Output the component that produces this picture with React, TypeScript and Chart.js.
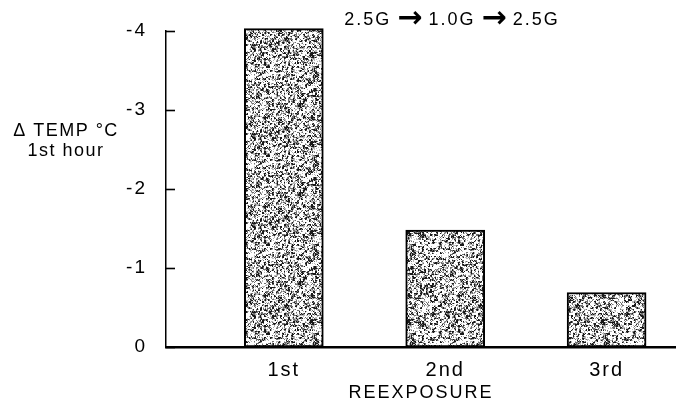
import React, { useEffect, useRef } from "react";
import { Chart, registerables } from "chart.js";

Chart.register(...registerables);

// ---- data ----
const categories = ["1st", "2nd", "3rd"];
const categoryPositions = [1, 2, 3];
const tempChange = [-4.03, -1.48, -0.69];
const yTickValues = [0, -1, -2, -3, -4];
const yTitleLines = ["Δ TEMP °C", "1st hour"];
const xTitle = "REEXPOSURE";
const protocolParts = ["2.5G", "→", "1.0G", "→", "2.5G"];

const FONT = "'Liberation Sans', Arial, Helvetica, sans-serif";
const INK = "#000000";

// stipple texture (style only)
function makeStipple(): HTMLCanvasElement {
  const c = document.createElement("canvas");
  c.width = 97;
  c.height = 89;
  const g = c.getContext("2d")!;
  const img = g.createImageData(c.width, c.height);
  const hash = (x: number, y: number) => {
    let h = (x * 374761393 + y * 668265263) | 0;
    h = Math.imul(h ^ (h >>> 13), 1274126177);
    h ^= h >>> 16;
    return (h >>> 0) / 4294967295;
  };
  for (let y = 0; y < c.height; y++) {
    for (let x = 0; x < c.width; x++) {
      const a = hash(x, y);
      const b = hash(x >> 1, (y >> 1) + 1000);
      const r = a * 0.45 + b * 0.55;
      let v = 255;
      if (r < 0.3) v = 25;
      else if (r < 0.42) v = 110;
      else if (r < 0.52) v = 185;
      const i = (y * c.width + x) * 4;
      img.data[i] = v;
      img.data[i + 1] = v;
      img.data[i + 2] = v;
      img.data[i + 3] = 255;
    }
  }
  g.putImageData(img, 0, 0);
  return c;
}

const decorPlugin = {
  id: "decor",
  beforeDraw(chart: any) {
    chart.ctx.letterSpacing = "2px";
  },
  afterDraw(chart: any) {
    const { ctx, chartArea, scales } = chart;
    const y = scales.y;
    ctx.save();
    ctx.letterSpacing = "0px";
    ctx.strokeStyle = INK;
    ctx.lineWidth = 1.6;
    y.ticks.forEach((t: any) => {
      const py = Math.round(y.getPixelForValue(t.value)) + 0.5;
      ctx.beginPath();
      ctx.moveTo(chartArea.left, py);
      ctx.lineTo(chartArea.left + 9, py);
      ctx.stroke();
    });
    ctx.fillStyle = INK;
    ctx.textAlign = "center";
    ctx.textBaseline = "middle";
    ctx.font = `18px ${FONT}`;
    ctx.letterSpacing = "1.5px";
    ctx.fillText(yTitleLines[0], 66, 131);
    ctx.fillText(yTitleLines[1], 66, 151);

    // protocol label at the top, drawn piece by piece
    const textFont = `18px ${FONT}`;
    const arrowFont = `bold 30px 'DejaVu Sans', sans-serif`;
    const gap = 6;
    ctx.textAlign = "left";
    const widths = protocolParts.map((p, i) => {
      ctx.font = i % 2 ? arrowFont : textFont;
      ctx.letterSpacing = i % 2 ? "0px" : "2px";
      return ctx.measureText(p).width;
    });
    const total = widths.reduce((a, b) => a + b, 0) + gap * (protocolParts.length - 1);
    let x = 452 - total / 2;
    protocolParts.forEach((p, i) => {
      ctx.font = i % 2 ? arrowFont : textFont;
      ctx.letterSpacing = i % 2 ? "0px" : "2px";
      ctx.fillText(p, x, i % 2 ? 19 : 20);
      x += widths[i] + gap;
    });
    ctx.restore();
  },
};

export default function App() {
  const canvasRef = useRef<HTMLCanvasElement | null>(null);

  useEffect(() => {
    const canvas = canvasRef.current;
    if (!canvas) return;
    const ctx = canvas.getContext("2d")!;
    const pattern = ctx.createPattern(makeStipple(), "repeat")!;

    const chart = new Chart(canvas, {
      type: "bar",
      data: {
        datasets: [
          {
            data: categoryPositions.map((x, i) => ({ x, y: tempChange[i] })),
            backgroundColor: pattern as any,
            borderColor: INK,
            borderWidth: 2,
            borderSkipped: false,
            barThickness: 79,
            clip: false as any,
          },
        ],
      },
      options: {
        responsive: false,
        animation: false,
        events: [],
        layout: { padding: { top: 31, right: 0, bottom: 0, left: 0 } },
        plugins: {
          legend: { display: false },
          tooltip: { enabled: false },
          title: { display: false },
        },
        scales: {
          x: {
            type: "linear",
            min: 0.27,
            max: 3.43,
            offset: false,
            grid: { display: false, offset: false },
            border: { display: true, color: INK, width: 2.5 },
            afterBuildTicks: (s: any) => {
              s.ticks = categoryPositions.map((v) => ({ value: v }));
            },
            afterFit: (s: any) => {
              s.height = 57;
            },
            ticks: {
              color: INK,
              font: { family: FONT, size: 20 },
              padding: 3,
              maxRotation: 0,
              callback: (v: any) => {
                const i = categoryPositions.indexOf(Number(v));
                return i >= 0 ? categories[i] : "";
              },
            },
            title: {
              display: true,
              text: xTitle,
              color: INK,
              font: { family: FONT, size: 18 },
              padding: { top: 0, bottom: 0 },
            },
          },
          y: {
            type: "linear",
            reverse: true,
            min: -4,
            max: 0,
            grid: { display: false },
            border: { display: true, color: INK, width: 1.5 },
            afterBuildTicks: (s: any) => {
              s.ticks = yTickValues.map((v) => ({ value: v }));
            },
            afterFit: (s: any) => {
              s.width = 166;
            },
            ticks: {
              color: INK,
              font: { family: FONT, size: 19 },
              padding: 11,
            },
          },
        },
      },
      plugins: [decorPlugin],
    });

    return () => chart.destroy();
  }, []);

  return (
    <div style={{ position: "absolute", left: 0, top: 0, width: 676, height: 404, background: "#fff" }}>
      <canvas ref={canvasRef} width={676} height={404} style={{ display: "block" }} />
    </div>
  );
}
